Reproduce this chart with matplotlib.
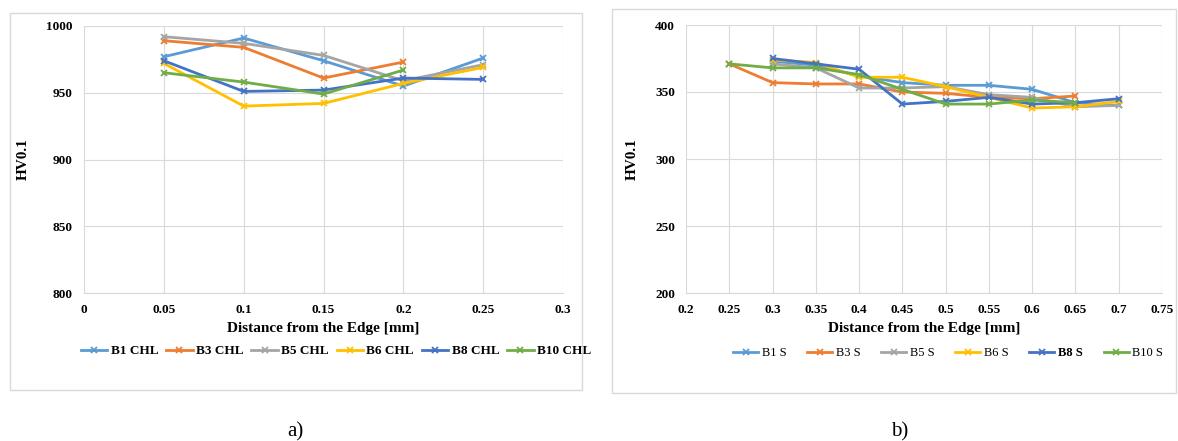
import matplotlib
matplotlib.use("Agg")
import matplotlib.pyplot as plt
from matplotlib.patches import Rectangle

plt.rcParams['font.family'] = ['Liberation Serif', 'DejaVu Serif']

# ---- data: panel a ----
x_a = [0.05, 0.1, 0.15, 0.2, 0.25]
b1_chl = [977, 991, 974, 955, 976]
b3_chl = [989, 984, 961, 973]
b5_chl = [992, 987, 978, 959, 971]
b6_chl = [972, 940, 942, 957, 969]
b8_chl = [974, 951, 952, 961, 960]
b10_chl = [965, 958, 949, 967]
labels_a = ['B1 CHL', 'B3 CHL', 'B5 CHL', 'B6 CHL', 'B8 CHL', 'B10 CHL']
xticks_a = [0, 0.05, 0.1, 0.15, 0.2, 0.25, 0.3]
xticklabels_a = ['0', '0.05', '0.1', '0.15', '0.2', '0.25', '0.3']
yticks_a = [800, 850, 900, 950, 1000]

# ---- data: panel b ----
x_b1 = [0.3, 0.35, 0.4, 0.45, 0.5, 0.55, 0.6, 0.65, 0.7]
b1_s = [373, 370, 362, 357, 355, 355, 352, 342, 340]
x_b3 = [0.25, 0.3, 0.35, 0.4, 0.45, 0.5, 0.55, 0.6, 0.65]
b3_s = [371, 357, 356, 356, 350, 349, 346, 345, 347]
x_b5 = [0.3, 0.35, 0.4, 0.45, 0.5, 0.55, 0.6, 0.65, 0.7]
b5_s = [371, 368, 353, 353, 354, 348, 346, 339, 340]
x_b6 = [0.3, 0.35, 0.4, 0.45, 0.5, 0.55, 0.6, 0.65, 0.7]
b6_s = [374, 372, 361, 361, 354, 346, 338, 339, 343]
x_b8 = [0.3, 0.35, 0.4, 0.45, 0.5, 0.55, 0.6, 0.65, 0.7]
b8_s = [375, 371, 367, 341, 343, 346, 341, 342, 345]
x_b10 = [0.25, 0.3, 0.35, 0.4, 0.45, 0.5, 0.55, 0.6, 0.65]
b10_s = [371, 368, 368, 363, 352, 341, 341, 344, 342]
labels_b = ['B1 S', 'B3 S', 'B5 S', 'B6 S', 'B8 S', 'B10 S']
xticks_b = [0.2, 0.25, 0.3, 0.35, 0.4, 0.45, 0.5, 0.55, 0.6, 0.65, 0.7, 0.75]
xticklabels_b = ['0.2', '0.25', '0.3', '0.35', '0.4', '0.45', '0.5', '0.55', '0.6', '0.65', '0.7', '0.75']
yticks_b = [200, 250, 300, 350, 400]

colors = ['#5B9BD5', '#ED7D31', '#A5A5A5', '#FFC000', '#4472C4', '#70AD47']

fig = plt.figure(figsize=(11.78, 4.41), dpi=100)
W, H = 1178, 441

# panel frames
fig.patches.append(Rectangle((10 / W, 1 - 390 / H), 572 / W, 377 / H, transform=fig.transFigure,
                             fill=False, edgecolor='#d9d9d9', linewidth=1.0))
fig.patches.append(Rectangle((612 / W, 1 - 393 / H), 564 / W, 384 / H, transform=fig.transFigure,
                             fill=False, edgecolor='#d9d9d9', linewidth=1.0))

ax1 = fig.add_axes([84 / W, 1 - 293 / H, (563 - 84) / W, (293 - 26) / H])
ax2 = fig.add_axes([686 / W, 1 - 293 / H, (1162 - 686) / W, (293 - 25) / H])

def style(ax, xticks, xtl, yticks, xlim, ylim):
    ax.set_xlim(*xlim)
    ax.set_ylim(*ylim)
    ax.set_xticks(xticks)
    ax.set_xticklabels(xtl)
    ax.set_yticks(yticks)
    ax.grid(True, color='#d9d9d9', linewidth=0.8)
    ax.set_axisbelow(True)
    for s in ['top', 'right', 'left']:
        ax.spines[s].set_visible(False)
    ax.spines['bottom'].set_color('#d9d9d9')
    ax.tick_params(length=0, labelsize=9.5, pad=8)
    for t in ax.get_xticklabels() + ax.get_yticklabels():
        t.set_fontweight('bold')
    ax.set_xlabel('Distance from the Edge [mm]', fontsize=11, fontweight='bold', labelpad=4)
    ax.set_ylabel('HV0.1', fontsize=11, fontweight='bold', labelpad=12)

series_a = [(x_a, b1_chl), (x_a[:4], b3_chl), (x_a, b5_chl), (x_a, b6_chl), (x_a, b8_chl), (x_a[:4], b10_chl)]
for (xs, ys), c, lab in zip(series_a, colors, labels_a):
    ax1.plot(xs, ys, color=c, lw=2, marker='x', ms=5, mew=1.3, label=lab)
style(ax1, xticks_a, xticklabels_a, yticks_a, (0, 0.3), (800, 1000))

series_b = [(x_b1, b1_s), (x_b3, b3_s), (x_b5, b5_s), (x_b6, b6_s), (x_b8, b8_s), (x_b10, b10_s)]
for (xs, ys), c, lab in zip(series_b, colors, labels_b):
    ax2.plot(xs, ys, color=c, lw=2, marker='x', ms=5, mew=1.3, label=lab)
style(ax2, xticks_b, xticklabels_b, yticks_b, (0.2, 0.75), (200, 400))

leg1 = ax1.legend(loc='center', bbox_to_anchor=(336 / W, 1 - 351 / H), bbox_transform=fig.transFigure,
                  ncol=6, frameon=False, prop={'size': 9.5, 'weight': 'bold'},
                  handlelength=2.0, columnspacing=0.6, handletextpad=0.25, borderpad=0.1)
leg2 = ax2.legend(loc='center', bbox_to_anchor=(948 / W, 1 - 353 / H), bbox_transform=fig.transFigure,
                  ncol=6, frameon=False, prop={'size': 9},
                  handlelength=2.0, columnspacing=1.7, handletextpad=0.25, borderpad=0.1)
leg2.get_texts()[4].set_fontweight('bold')

fig.text(295 / W, 1 - 432 / H, 'a)', fontsize=15, ha='center', va='center')
fig.text(900 / W, 1 - 432 / H, 'b)', fontsize=15, ha='center', va='center')

fig.savefig('out.png', dpi=100)
